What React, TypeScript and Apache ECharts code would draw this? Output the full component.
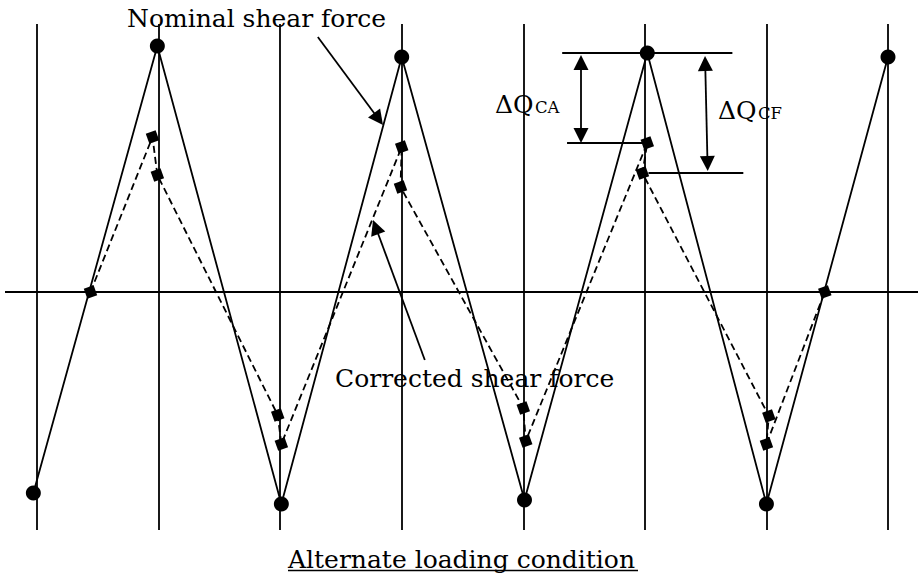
import React, { useEffect, useRef } from "react";
import * as echarts from "echarts";

// ---- data (arbitrary shear-force units, 0 = neutral) ----
const gridLineX = [0, 1, 2, 3, 4, 5, 6, 7];
const nominalX = [-0.03, 0.99, 2.01, 3.0, 4.01, 5.02, 6.0, 7.0];
const nominalY = [-201, 246, -212, 235, -208, 239, -212, 235];
const correctedX = [0.44, 0.95, 0.99, 1.98, 2.01, 3.0, 2.99, 4.0, 4.02, 5.02, 4.98, 6.02, 6.0, 6.48];
const correctedY = [0, 155, 117, -123, -152, 145, 105, -116, -149, 149, 119, -124, -152, 0];

// annotation arrows: [x0, y0, x1 (tip), y1 (tip)]
const nominalArrow = [2.31, 255, 2.846, 167];
const correctedArrow = [3.19, -68, 2.764, 72];
// dimension lines for ΔQCA / ΔQCF
const refTopX = [4.32, 5.72];
const refCAX = [4.36, 5.02];
const refCFX = [5.03, 5.81];
const arrowCAX = [4.475, 4.475];
const arrowCFX = [5.495, 5.517];

const X_MIN = -0.2632;
const X_MAX = 7.2468;
const Y_MIN = -238;
const Y_MAX = 268;

const GRID = { left: 5, right: 4, top: 24, bottom: 48 };
const W = 922;
const H = 578;
const HEAD = 15;

const FONT = '"DejaVu Serif", serif';
const LW = 1.8;

// move an arrow end inwards by half a head length so that the tip lands on the point
function headCenter(fx: number, fy: number, tx: number, ty: number) {
  const kx = (W - GRID.left - GRID.right) / (X_MAX - X_MIN);
  const ky = (H - GRID.top - GRID.bottom) / (Y_MAX - Y_MIN);
  const dx = (tx - fx) * kx;
  const dy = (ty - fy) * ky;
  const len = Math.hypot(dx, dy) || 1;
  const s = HEAD / 2 / len;
  return [tx - (dx * s) / kx, ty - (dy * s) / ky];
}

export default function App() {
  const ref = useRef<HTMLDivElement>(null);

  useEffect(() => {
    if (!ref.current) return;
    const chart = echarts.init(ref.current, undefined, { renderer: "svg" });

    const refTopY = nominalY[5];
    const refCAY = correctedY[9];
    const refCFY = correctedY[10];

    const baseMark = {
      silent: true,
      label: { show: false },
      emphasis: { disabled: true },
      lineStyle: { color: "#000", width: LW, type: "solid" },
    };

    const single = (a: number[]) => [
      { coord: [a[0], a[1]] },
      { coord: headCenter(a[0], a[1], a[2], a[3]) },
    ];
    const double = (x0: number, y0: number, x1: number, y1: number) => [
      { coord: headCenter(x1, y1, x0, y0) },
      { coord: headCenter(x0, y0, x1, y1) },
    ];

    const plainLines: any[] = [
      ...gridLineX.map((x) => ({ xAxis: x })),
      { yAxis: 0 },
      [{ coord: [refTopX[0], refTopY] }, { coord: [refTopX[1], refTopY] }],
      [{ coord: [refCAX[0], refCAY] }, { coord: [refCAX[1], refCAY] }],
      [{ coord: [refCFX[0], refCFY] }, { coord: [refCFX[1], refCFY] }],
    ];
    const singleArrows: any[] = [single(nominalArrow), single(correctedArrow)];
    const doubleArrows: any[] = [
      double(arrowCAX[0], refTopY - 2, arrowCAX[1], refCAY),
      double(arrowCFX[0], refTopY - 3, arrowCFX[1], refCFY + 2),
    ];

    const textStyle = (text: string, size: number) => ({
      text,
      fill: "#000",
      fontSize: size,
      fontFamily: FONT,
      align: "left",
      verticalAlign: "middle",
    });

    chart.setOption({
      animation: false,
      backgroundColor: "#fff",
      grid: GRID,
      xAxis: { type: "value", min: X_MIN, max: X_MAX, show: false },
      yAxis: { type: "value", min: Y_MIN, max: Y_MAX, show: false },
      series: [
        {
          name: "Nominal shear force",
          type: "line",
          data: nominalX.map((x, i) => [x, nominalY[i]]),
          symbol: "circle",
          symbolSize: 15,
          itemStyle: { color: "#000" },
          lineStyle: { color: "#000", width: LW, type: "solid" },
          z: 3,
          markLine: { ...baseMark, symbol: ["none", "none"], data: plainLines },
        },
        {
          name: "Corrected shear force",
          type: "line",
          data: correctedX.map((x, i) => [x, correctedY[i]]),
          symbol: "rect",
          symbolSize: 10.5,
          symbolRotate: 20,
          itemStyle: { color: "#000" },
          lineStyle: { color: "#000", width: LW, type: [7, 4] },
          z: 4,
          markLine: { ...baseMark, symbol: ["none", "triangle"], symbolSize: HEAD, data: singleArrows },
        },
        {
          name: "dimensions",
          type: "line",
          data: [[refTopX[0], refTopY]],
          symbol: "none",
          lineStyle: { opacity: 0 },
          z: 5,
          markLine: { ...baseMark, symbol: ["triangle", "triangle"], symbolSize: HEAD, data: doubleArrows },
        },
      ],
      graphic: [
        { type: "text", x: 127, y: 18.5, style: textStyle("Nominal shear force", 25) },
        { type: "text", x: 335, y: 378.5, style: textStyle("Corrected shear force", 25) },
        { type: "text", x: 288, y: 559, style: textStyle("Alternate loading condition", 25) },
        {
          type: "line",
          shape: { x1: 288, y1: 570.5, x2: 638, y2: 570.5 },
          style: { stroke: "#000", lineWidth: 1.5 },
        },
        { type: "text", x: 495, y: 104, style: textStyle("ΔQ", 25) },
        { type: "text", x: 535, y: 107.5, style: textStyle("CA", 16.5) },
        { type: "text", x: 718, y: 110.5, style: textStyle("ΔQ", 25) },
        { type: "text", x: 758, y: 113.5, style: textStyle("CF", 16.5) },
      ],
    });

    return () => chart.dispose();
  }, []);

  return (
    <div
      ref={ref}
      style={{
        position: "fixed",
        left: 0,
        top: 0,
        width: W,
        height: H,
        background: "#fff",
      }}
    />
  );
}
